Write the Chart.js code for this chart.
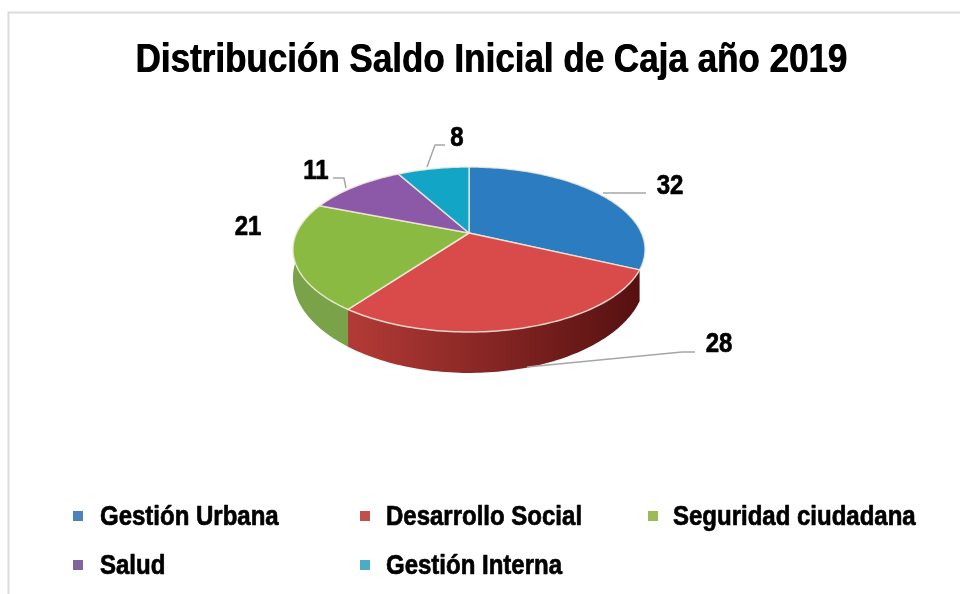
<!DOCTYPE html>
<html>
<head>
<meta charset="utf-8">
<style>html,body{margin:0;padding:0;background:#fff}canvas{display:block}</style>
<script src="https://cdn.jsdelivr.net/npm/chart.js@4/dist/chart.umd.js"></script>
</head>
<body>
<div style="width:960px;height:594px"><canvas id="c" width="960" height="594"></canvas></div>
<script>
const titleText = "Distribución Saldo Inicial de Caja año 2019";
const categories = ["Gestión Urbana", "Desarrollo Social", "Seguridad ciudadana", "Salud", "Gestión Interna"];
const values = [32, 28, 21, 11, 8];
const faceColors = ["#2b7cc0", "#d94b4a", "#8aba42", "#8c58a8", "#12a5c6"];
const wallLight = [null, "#b23a36", "#7aa349", null, null];
const wallDark = [null, "#561010", "#688f3c", null, null];
const legendColors = ["#4f81bd", "#c0504d", "#9bbb59", "#8064a2", "#4bacc6"];

const FONT = '"Liberation Sans",Arial,sans-serif';
const P = {dx: -22.5, rx: 172.5, ry: 79.2, persp: 0.2, depth: 26.2};

function project(el, a, drop) {
  const u = Math.cos(a), v = Math.sin(a), den = 1 - P.persp * v;
  return {
    x: el.x + P.dx + P.rx * u / den,
    y: el.y + P.ry * v / den + (drop ? P.depth / (den * den) : 0)
  };
}
function anglesOf(el) {
  const out = [], n = Math.max(2, Math.ceil((el.endAngle - el.startAngle) / 0.02));
  for (let i = 0; i <= n; i++) out.push(el.startAngle + (el.endAngle - el.startAngle) * i / n);
  return out;
}
function narrowText(c, text, x, y, sx) {
  c.save();
  c.translate(x, y);
  c.scale(sx, 1);
  c.strokeStyle = "#000";
  c.lineWidth = 0.7;
  c.lineJoin = "round";
  c.strokeText(text, 0, 0);
  c.fillText(text, 0, 0);
  c.restore();
}

const pie3d = {
  id: "pie3d",
  afterInit(chart) {
    // condense the library's own title block and give it the reference's heavier stroke
    const block = chart.titleBlock, draw = block.draw;
    block.draw = function () {
      const c = chart.ctx, mid = (block.left + block.right) / 2;
      [-0.35, 0.35].forEach(off => {
        c.save();
        c.translate(mid + off, 0);
        c.scale(0.875, 1);
        c.translate(-mid, 0);
        draw.call(block);
        c.restore();
      });
    };
  },
  beforeDraw(chart) {
    const c = chart.ctx;
    c.save();
    c.fillStyle = "#fff";
    c.fillRect(0, 0, chart.width, chart.height);
    c.strokeStyle = "#dcdcdc";
    c.lineWidth = 2;
    c.beginPath();
    c.moveTo(8.5, chart.height);
    c.lineTo(8.5, 12.5);
    c.lineTo(chart.width, 12.5);
    c.stroke();
    c.restore();
  },
  beforeDatasetDraw(chart) {
    const c = chart.ctx, arcs = chart.getDatasetMeta(0).data;
    c.save();
    c.filter = "blur(0.5px)";
    // side wall, painted before the top faces
    arcs.forEach((el, i) => {
      if (!wallLight[i]) return;
      const pts = anglesOf(el);
      const g = c.createLinearGradient(352, 0, 640, 0);
      g.addColorStop(0, wallLight[i]);
      g.addColorStop(1, wallDark[i]);
      c.fillStyle = i === 2 ? wallLight[i] : g;
      c.beginPath();
      pts.forEach((a, k) => {
        const p = project(el, a, false);
        k ? c.lineTo(p.x, p.y) : c.moveTo(p.x, p.y);
      });
      pts.slice().reverse().forEach(a => {
        const p = project(el, a, true);
        c.lineTo(p.x, p.y);
      });
      c.closePath();
      c.fill();
    });
    // top faces
    arcs.forEach((el, i) => {
      c.fillStyle = faceColors[i];
      c.strokeStyle = "rgba(240,235,220,0.85)";
      c.lineWidth = 1.5;
      c.lineJoin = "round";
      c.beginPath();
      c.moveTo(el.x + P.dx, el.y);
      anglesOf(el).forEach(a => {
        const p = project(el, a, false);
        c.lineTo(p.x, p.y);
      });
      c.closePath();
      c.fill();
      c.stroke();
    });
    c.restore();
    return false;
  },
  afterDatasetsDraw(chart) {
    const c = chart.ctx, arcs = chart.getDatasetMeta(0).data;
    const cx = arcs[0].x + P.dx, cy = arcs[0].y;
    c.save();
    // leader lines, relative to the pie centre
    const leaders = [
      [[134, -40], [177, -40]],
      [[58, 134], [213, 119], [226, 119]],
      null,
      [[-123, -45], [-125, -55], [-136, -55]],
      [[-42, -66], [-34, -88], [-24, -88]]
    ];
    const labelAt = [[201, -47], [250, 111], [-221, -6], [-153, -62], [-12, -95]];
    c.strokeStyle = "#a6a6a6";
    c.lineWidth = 1.5;
    leaders.forEach(l => {
      if (!l) return;
      c.beginPath();
      l.forEach((p, k) => k ? c.lineTo(cx + p[0], cy + p[1]) : c.moveTo(cx + p[0], cy + p[1]));
      c.stroke();
    });
    c.fillStyle = "#000";
    c.font = "bold 28px " + FONT;
    c.textAlign = "center";
    c.textBaseline = "middle";
    values.forEach((v, i) => narrowText(c, String(v), cx + labelAt[i][0], cy + labelAt[i][1], 0.857));

    // legend in two aligned rows
    const swatchX = [73, 360, 648], textX = [100, 386, 673], rowY = [517, 566];
    c.textAlign = "left";
    categories.forEach((name, i) => {
      const col = i % 3, y = rowY[Math.floor(i / 3)];
      c.fillStyle = legendColors[i];
      c.fillRect(swatchX[col], y - 6, 10, 10);
      c.fillStyle = "#000";
      narrowText(c, name, textX[col], y, 0.857);
    });
    c.restore();
  }
};

new Chart(document.getElementById("c"), {
  type: "pie",
  data: {labels: categories, datasets: [{data: values, backgroundColor: legendColors, borderWidth: 0}]},
  options: {
    responsive: false,
    animation: false,
    layout: {padding: {left: 23, right: 0, top: 0, bottom: 213}},
    plugins: {
      legend: {display: false},
      tooltip: {enabled: false},
      title: {
        display: true,
        text: titleText,
        color: "#000",
        font: {family: FONT, size: 40, weight: "bold"},
        padding: {top: 37, bottom: 0}
      }
    }
  },
  plugins: [pie3d]
});
</script>
</body>
</html>
